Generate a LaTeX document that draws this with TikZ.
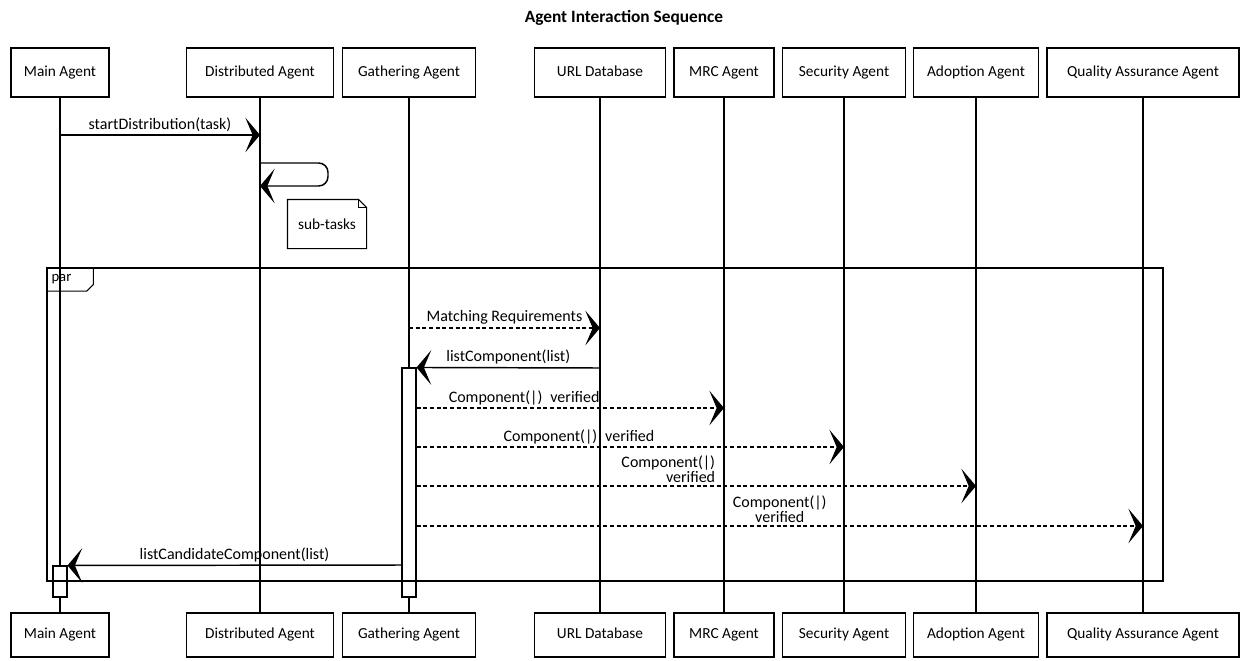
\documentclass[tikz,border=0pt]{standalone}
\usepackage{fontspec}
\setmainfont{Carlito}
\usetikzlibrary{arrows.meta}

\tikzset{
  agent/.style={draw, line width=1pt, minimum height=36.75pt, inner sep=2pt,
    font=\fontsize{11.5}{12}\selectfont, text height=1.6ex, text depth=0.4ex},
  msg/.style={line width=1.1pt, -{Stealth[length=11pt,width=26pt,inset=5.5pt]}},
  dmsg/.style={msg, line width=1pt, dash pattern=on 3pt off 2pt},
  lbl/.style={above=1pt, inner sep=1pt, font=\fontsize{12}{11}\selectfont},
  actbar/.style={draw, fill=white, line width=0.8pt, minimum width=10.5pt, inner sep=0pt}
}

\begin{document}
\begin{tikzpicture}[x=0.75pt, y=-0.75pt, line width=0.8pt]
  \useasboundingbox (0,0) rectangle (1241,660);

  \node[font=\fontsize{13}{14}\selectfont\bfseries] (title) at (624,18) {Agent Interaction Sequence};

  % agents on top and bottom, lifelines between them
  \foreach \n/\x/\w/\t in {main/60/98/Main Agent, dist/260/147/Distributed Agent,
      gath/409/133/Gathering Agent, url/600/131/URL Database, mrc/724/100/MRC Agent,
      sec/844/123/Security Agent, adop/976/125/Adoption Agent,
      qa/1143/192/Quality Assurance Agent}{
    \node[agent, minimum width=\w*0.75pt] (\n-top) at (\x,72.5) {\t};
    \node[agent, minimum width=\w*0.75pt, minimum height=33pt] (\n-bot) at (\x,635) {\t};
    \draw (\n-top.south) -- (\n-bot.north);
  }

  % activation bars
  \node[actbar, minimum height=171.75pt] (gathAct) at (409,482.5) {};
  \node[actbar, minimum height=23.25pt] (mainAct) at (60,581.5) {};

  \draw[msg] (main-top |- 0,135) -- node[lbl]{startDistribution(task)} (dist-top |- 0,135);

  \coordinate (selfR) at (328,186);
  \draw[msg, rounded corners=7pt] (dist-top |- 0,163) -| (selfR) -- (dist-top |- 0,186);

  % note
  \node[minimum width=58.5pt, minimum height=36pt, inner sep=2pt, font=\fontsize{11.5}{12}\selectfont] (subtasks) at (327,224) {sub-tasks};
  \draw (subtasks.north west) -- ([xshift=-6pt]subtasks.north east)
    -- ([yshift=-6pt]subtasks.north east) -- (subtasks.south east)
    -- (subtasks.south west) -- cycle;
  \draw ([xshift=-6pt]subtasks.north east) |- ([yshift=-6pt]subtasks.north east);

  % par fragment
  \coordinate (parNW) at (47,268);
  \coordinate (parSE) at (1163,581);
  \draw (parNW) rectangle (parSE);
  \node[anchor=north west, text width=28pt, minimum height=16.5pt, inner sep=3pt, align=left,
    font=\fontsize{11}{12}\selectfont] (partab) at (parNW) {par};
  \draw (partab.north east) -- ([yshift=5pt]partab.south east)
    -- ([xshift=-5pt]partab.south east) -- (partab.south west);

  \draw[dmsg] (gath-top |- 0,328) -- node[lbl]{Matching Requirements} (url-top |- 0,328);
  \draw[msg] (url-top |- 0,368) -- node[lbl, pos=0.5]{listComponent(list)} (gathAct.north east);

  \draw[dmsg] (gathAct.east |- 0,408) -- node[lbl, pos=0.35]{Component(|)\enspace verified} (mrc-top |- 0,408);
  \draw[dmsg] (gathAct.east |- 0,447) -- node[lbl, pos=0.38]{Component(|)\enspace verified} (sec-top |- 0,447);
  \draw[dmsg] (gathAct.east |- 0,486) -- node[lbl, pos=0.45, align=right]{Component(|)\\verified} (adop-top |- 0,486);
  \draw[dmsg] (gathAct.east |- 0,526) -- node[lbl, pos=0.5, align=center]{Component(|)\\verified} (qa-top |- 0,526);

  \draw[msg] (gathAct.west |- 0,565) -- node[lbl]{listCandidateComponent(list)} (mainAct.north east);

\end{tikzpicture}
\end{document}
